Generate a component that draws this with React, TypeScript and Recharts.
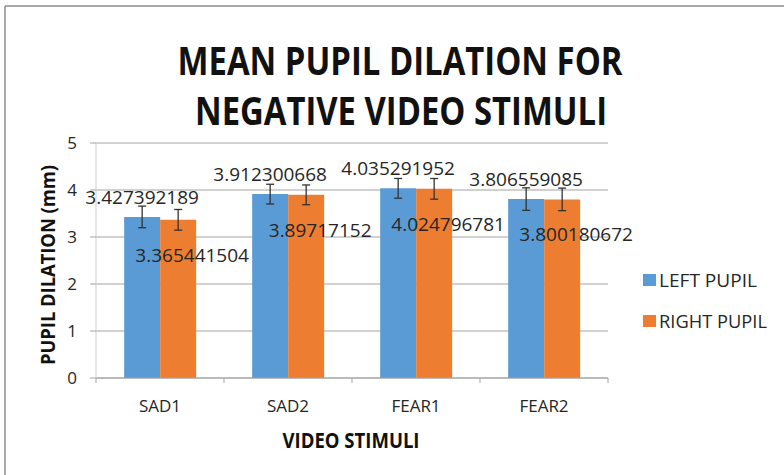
import { Bar, BarChart, CartesianGrid, ErrorBar, LabelList, XAxis, YAxis } from "recharts";

const stimuli = ["SAD1", "SAD2", "FEAR1", "FEAR2"];
const leftPupil = [3.427392189, 3.912300668, 4.035291952, 3.806559085];
const rightPupil = [3.365441504, 3.89717152, 4.024796781, 3.800180672];
const leftErr = [0.23, 0.21, 0.21, 0.24];
const rightErr = [0.22, 0.21, 0.22, 0.24];
const yTicks = [0, 1, 2, 3, 4, 5];

const data = stimuli.map((name, i) => ({
  name,
  left: leftPupil[i],
  right: rightPupil[i],
  leftErr: leftErr[i],
  rightErr: rightErr[i],
}));

const W = 784;
const H = 475;
const PLOT = { left: 96, right: 608, top: 143, bottom: 378 };
const BAND = (PLOT.right - PLOT.left) / stimuli.length;

const FONT = "'Open Sans', sans-serif";
const BLUE = "#5b9bd5";
const ORANGE = "#ed7d31";
const GRID = "#a3a3a3";
const TEXT = "#262626";

function CategoryTick(props: any) {
  const { x, payload, index } = props;
  const last = index === stimuli.length - 1;
  return (
    <g>
      <line x1={x - BAND / 2} x2={x - BAND / 2} y1={PLOT.bottom} y2={PLOT.bottom + 5} stroke={GRID} />
      {last && <line x1={x + BAND / 2} x2={x + BAND / 2} y1={PLOT.bottom} y2={PLOT.bottom + 5} stroke={GRID} />}
      <text x={x} y={PLOT.bottom + 34} textAnchor="middle" fontFamily={FONT} fontSize={17} fill={TEXT}>
        {payload.value}
      </text>
    </g>
  );
}

function LeftLabel(props: any) {
  const { x, y, width, value } = props;
  return (
    <text x={x + width / 2} y={y - 13} textAnchor="middle" fontFamily={FONT} fontSize={19} fill={TEXT}>
      {String(value)}
    </text>
  );
}

function RightLabel(props: any) {
  const { x, y, width, value } = props;
  return (
    <text x={x + width / 2 + 14} y={y + 42} textAnchor="middle" fontFamily={FONT} fontSize={19} fill={TEXT}>
      {String(value)}
    </text>
  );
}

export default function App() {
  return (
    <div style={{ position: "absolute", left: 0, top: 0, width: W, height: H, background: "#fff" }}>
      <BarChart
        width={W}
        height={H}
        data={data}
        margin={{ top: PLOT.top, right: W - PLOT.right, bottom: H - PLOT.bottom - 30, left: 0 }}
        barCategoryGap="22%"
        barGap={0}
      >
        <CartesianGrid stroke={GRID} vertical={false} />
        <XAxis
          dataKey="name"
          height={30}
          axisLine={{ stroke: GRID }}
          tickLine={false}
          tick={<CategoryTick />}
          interval={0}
        />
        <YAxis
          width={PLOT.left}
          domain={[0, 5]}
          ticks={yTicks}
          axisLine={{ stroke: "#cfcfcf" }}
          tickLine={{ stroke: GRID }}
          tickSize={6}
          tickMargin={13}
          tick={{ fill: TEXT, fontSize: 17, fontFamily: FONT }}
        />
        <Bar dataKey="left" name="LEFT PUPIL" fill={BLUE} isAnimationActive={false}>
          <ErrorBar dataKey="leftErr" width={4} stroke="#333" strokeWidth={1.3} direction="y" isAnimationActive={false} />
          <LabelList dataKey="left" content={<LeftLabel />} />
        </Bar>
        <Bar dataKey="right" name="RIGHT PUPIL" fill={ORANGE} isAnimationActive={false}>
          <ErrorBar dataKey="rightErr" width={4} stroke="#333" strokeWidth={1.3} direction="y" isAnimationActive={false} />
          <LabelList dataKey="right" content={<RightLabel />} />
        </Bar>
      </BarChart>

      <svg width={W} height={H} style={{ position: "absolute", left: 0, top: 0, pointerEvents: "none" }}>
        {/* frame: only top and left edges are visible */}
        <line x1={5} x2={W} y1={6} y2={6} stroke="#8c8c8c" strokeWidth={1.5} />
        <line x1={5} x2={5} y1={6} y2={H} stroke="#8c8c8c" strokeWidth={1.5} />

        <g fontFamily={FONT} fontWeight={700} fill="#111">
          <text x={400} y={75} fontSize={39} textAnchor="middle" textLength={445} lengthAdjust="spacingAndGlyphs">
            MEAN PUPIL DILATION FOR
          </text>
          <text x={401} y={125} fontSize={39} textAnchor="middle" textLength={412} lengthAdjust="spacingAndGlyphs">
            NEGATIVE VIDEO STIMULI
          </text>
          <text x={351} y={448} fontSize={21} textAnchor="middle" textLength={137} lengthAdjust="spacingAndGlyphs">
            VIDEO STIMULI
          </text>
          <text
            x={55}
            y={265}
            fontSize={19}
            textAnchor="middle"
            textLength={200}
            lengthAdjust="spacingAndGlyphs"
            transform="rotate(-90 55 265)"
          >
            PUPIL DILATION (mm)
          </text>
        </g>

        <g fontFamily={FONT} fontSize={18} fill={TEXT}>
          <rect x={643} y={274} width={13} height={12} fill={BLUE} />
          <text x={659} y={287} textLength={98} lengthAdjust="spacingAndGlyphs">LEFT PUPIL</text>
          <rect x={643} y={315} width={13} height={12} fill={ORANGE} />
          <text x={659} y={328} textLength={108} lengthAdjust="spacingAndGlyphs">RIGHT PUPIL</text>
        </g>
      </svg>
    </div>
  );
}
